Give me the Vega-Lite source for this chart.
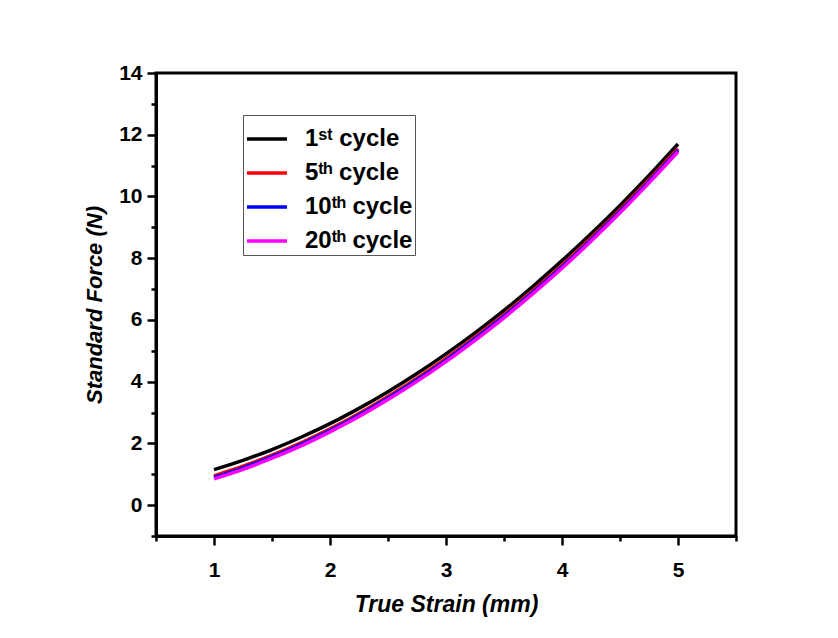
{
  "$schema": "https://vega.github.io/schema/vega-lite/v6.json",
  "autosize": {"type": "none"},
  "width": 580,
  "height": 463,
  "padding": {"left": 156, "top": 73, "right": 102, "bottom": 102},
  "background": "white",
  "config": {
    "view": {"stroke": "black", "strokeWidth": 3},
    "font": "Liberation Sans"
  },
  "datasets": {
    "curves": [
      {"x": 1, "y": 1.15, "s": "1ˢᵗ cycle"},
      {"x": 1.25, "y": 1.45, "s": "1ˢᵗ cycle"},
      {"x": 1.5, "y": 1.8, "s": "1ˢᵗ cycle"},
      {"x": 1.75, "y": 2.2, "s": "1ˢᵗ cycle"},
      {"x": 2, "y": 2.64, "s": "1ˢᵗ cycle"},
      {"x": 2.25, "y": 3.135, "s": "1ˢᵗ cycle"},
      {"x": 2.5, "y": 3.675, "s": "1ˢᵗ cycle"},
      {"x": 2.75, "y": 4.263, "s": "1ˢᵗ cycle"},
      {"x": 3, "y": 4.9, "s": "1ˢᵗ cycle"},
      {"x": 3.25, "y": 5.58, "s": "1ˢᵗ cycle"},
      {"x": 3.5, "y": 6.31, "s": "1ˢᵗ cycle"},
      {"x": 3.75, "y": 7.09, "s": "1ˢᵗ cycle"},
      {"x": 4, "y": 7.92, "s": "1ˢᵗ cycle"},
      {"x": 4.25, "y": 8.79, "s": "1ˢᵗ cycle"},
      {"x": 4.5, "y": 9.71, "s": "1ˢᵗ cycle"},
      {"x": 4.75, "y": 10.68, "s": "1ˢᵗ cycle"},
      {"x": 5, "y": 11.7, "s": "1ˢᵗ cycle"},

      {"x": 1, "y": 0.95, "s": "5ᵗʰ cycle"},
      {"x": 1.25, "y": 1.26, "s": "5ᵗʰ cycle"},
      {"x": 1.5, "y": 1.62, "s": "5ᵗʰ cycle"},
      {"x": 1.75, "y": 2.02, "s": "5ᵗʰ cycle"},
      {"x": 2, "y": 2.47, "s": "5ᵗʰ cycle"},
      {"x": 2.25, "y": 2.97, "s": "5ᵗʰ cycle"},
      {"x": 2.5, "y": 3.52, "s": "5ᵗʰ cycle"},
      {"x": 2.75, "y": 4.11, "s": "5ᵗʰ cycle"},
      {"x": 3, "y": 4.75, "s": "5ᵗʰ cycle"},
      {"x": 3.25, "y": 5.44, "s": "5ᵗʰ cycle"},
      {"x": 3.5, "y": 6.17, "s": "5ᵗʰ cycle"},
      {"x": 3.75, "y": 6.95, "s": "5ᵗʰ cycle"},
      {"x": 4, "y": 7.77, "s": "5ᵗʰ cycle"},
      {"x": 4.25, "y": 8.65, "s": "5ᵗʰ cycle"},
      {"x": 4.5, "y": 9.57, "s": "5ᵗʰ cycle"},
      {"x": 4.75, "y": 10.54, "s": "5ᵗʰ cycle"},
      {"x": 5, "y": 11.55, "s": "5ᵗʰ cycle"},

      {"x": 1, "y": 0.9, "s": "10ᵗʰ cycle"},
      {"x": 1.25, "y": 1.21, "s": "10ᵗʰ cycle"},
      {"x": 1.5, "y": 1.57, "s": "10ᵗʰ cycle"},
      {"x": 1.75, "y": 1.97, "s": "10ᵗʰ cycle"},
      {"x": 2, "y": 2.42, "s": "10ᵗʰ cycle"},
      {"x": 2.25, "y": 2.92, "s": "10ᵗʰ cycle"},
      {"x": 2.5, "y": 3.47, "s": "10ᵗʰ cycle"},
      {"x": 2.75, "y": 4.06, "s": "10ᵗʰ cycle"},
      {"x": 3, "y": 4.7, "s": "10ᵗʰ cycle"},
      {"x": 3.25, "y": 5.39, "s": "10ᵗʰ cycle"},
      {"x": 3.5, "y": 6.12, "s": "10ᵗʰ cycle"},
      {"x": 3.75, "y": 6.9, "s": "10ᵗʰ cycle"},
      {"x": 4, "y": 7.72, "s": "10ᵗʰ cycle"},
      {"x": 4.25, "y": 8.6, "s": "10ᵗʰ cycle"},
      {"x": 4.5, "y": 9.52, "s": "10ᵗʰ cycle"},
      {"x": 4.75, "y": 10.49, "s": "10ᵗʰ cycle"},
      {"x": 5, "y": 11.5, "s": "10ᵗʰ cycle"},

      {"x": 1, "y": 0.85, "s": "20ᵗʰ cycle"},
      {"x": 1.25, "y": 1.16, "s": "20ᵗʰ cycle"},
      {"x": 1.5, "y": 1.52, "s": "20ᵗʰ cycle"},
      {"x": 1.75, "y": 1.92, "s": "20ᵗʰ cycle"},
      {"x": 2, "y": 2.375, "s": "20ᵗʰ cycle"},
      {"x": 2.25, "y": 2.87, "s": "20ᵗʰ cycle"},
      {"x": 2.5, "y": 3.42, "s": "20ᵗʰ cycle"},
      {"x": 2.75, "y": 4.01, "s": "20ᵗʰ cycle"},
      {"x": 3, "y": 4.65, "s": "20ᵗʰ cycle"},
      {"x": 3.25, "y": 5.34, "s": "20ᵗʰ cycle"},
      {"x": 3.5, "y": 6.07, "s": "20ᵗʰ cycle"},
      {"x": 3.75, "y": 6.85, "s": "20ᵗʰ cycle"},
      {"x": 4, "y": 7.675, "s": "20ᵗʰ cycle"},
      {"x": 4.25, "y": 8.55, "s": "20ᵗʰ cycle"},
      {"x": 4.5, "y": 9.47, "s": "20ᵗʰ cycle"},
      {"x": 4.75, "y": 10.44, "s": "20ᵗʰ cycle"},
      {"x": 5, "y": 11.45, "s": "20ᵗʰ cycle"}
    ]
  },
  "data": {"name": "curves"},
  "mark": {"type": "line", "strokeWidth": 3.5, "interpolate": "monotone", "clip": true},
  "encoding": {
    "x": {
      "field": "x", "type": "quantitative",
      "scale": {"domain": [0.5, 5.5], "nice": false, "zero": false},
      "axis": {
        "title": "True Strain (mm)",
        "titleFont": "Liberation Sans", "titleFontSize": 23, "titleFontWeight": "bold", "titleFontStyle": "italic",
        "titlePadding": 13,
        "values": [0.5, 1, 1.5, 2, 2.5, 3, 3.5, 4, 4.5, 5, 5.5],
        "labelExpr": "datum.value % 1 === 0 ? format(datum.value, 'd') : ''",
        "labelFont": "Liberation Sans", "labelFontSize": 21, "labelFontWeight": "bold", "labelColor": "black",
        "labelPadding": 14,
        "grid": false,
        "domainColor": "black", "domainWidth": 3,
        "tickColor": "black", "tickWidth": 2.5,
        "tickSize": {"condition": {"test": "datum.value % 1 !== 0", "value": 5}, "value": 9}
      }
    },
    "y": {
      "field": "y", "type": "quantitative",
      "scale": {"domain": [-1, 14], "nice": false, "zero": false},
      "axis": {
        "title": "Standard Force (N)",
        "titleFont": "Liberation Sans", "titleFontSize": 22, "titleFontWeight": "bold", "titleFontStyle": "italic",
        "titlePadding": 12,
        "values": [-1, 0, 1, 2, 3, 4, 5, 6, 7, 8, 9, 10, 11, 12, 13, 14],
        "labelExpr": "datum.value % 2 === 0 ? datum.label : ''",
        "labelFont": "Liberation Sans", "labelFontSize": 21, "labelFontWeight": "bold", "labelColor": "black",
        "labelPadding": 5,
        "grid": false,
        "domainColor": "black", "domainWidth": 3,
        "tickColor": "black", "tickWidth": 2.5,
        "tickSize": {"condition": {"test": "abs(datum.value % 2) === 1", "value": 5}, "value": 9}
      }
    },
    "color": {
      "field": "s", "type": "nominal",
      "scale": {
        "domain": ["1ˢᵗ cycle", "5ᵗʰ cycle", "10ᵗʰ cycle", "20ᵗʰ cycle"],
        "range": ["#000000", "#ff0000", "#0000ff", "#ff00ff"]
      },
      "legend": {
        "title": null,
        "orient": "none",
        "legendX": 87,
        "legendY": 42,
        "strokeColor": "#555555",
        "padding": 2,
        "symbolType": "stroke",
        "symbolStrokeWidth": 3.5,
        "symbolSize": 1600,
        "labelFont": "Liberation Sans", "labelFontSize": 24, "labelFontWeight": "bold", "labelColor": "black",
        "labelOffset": 16,
        "rowPadding": -14
      }
    },
    "order": {"field": "s"}
  }
}
